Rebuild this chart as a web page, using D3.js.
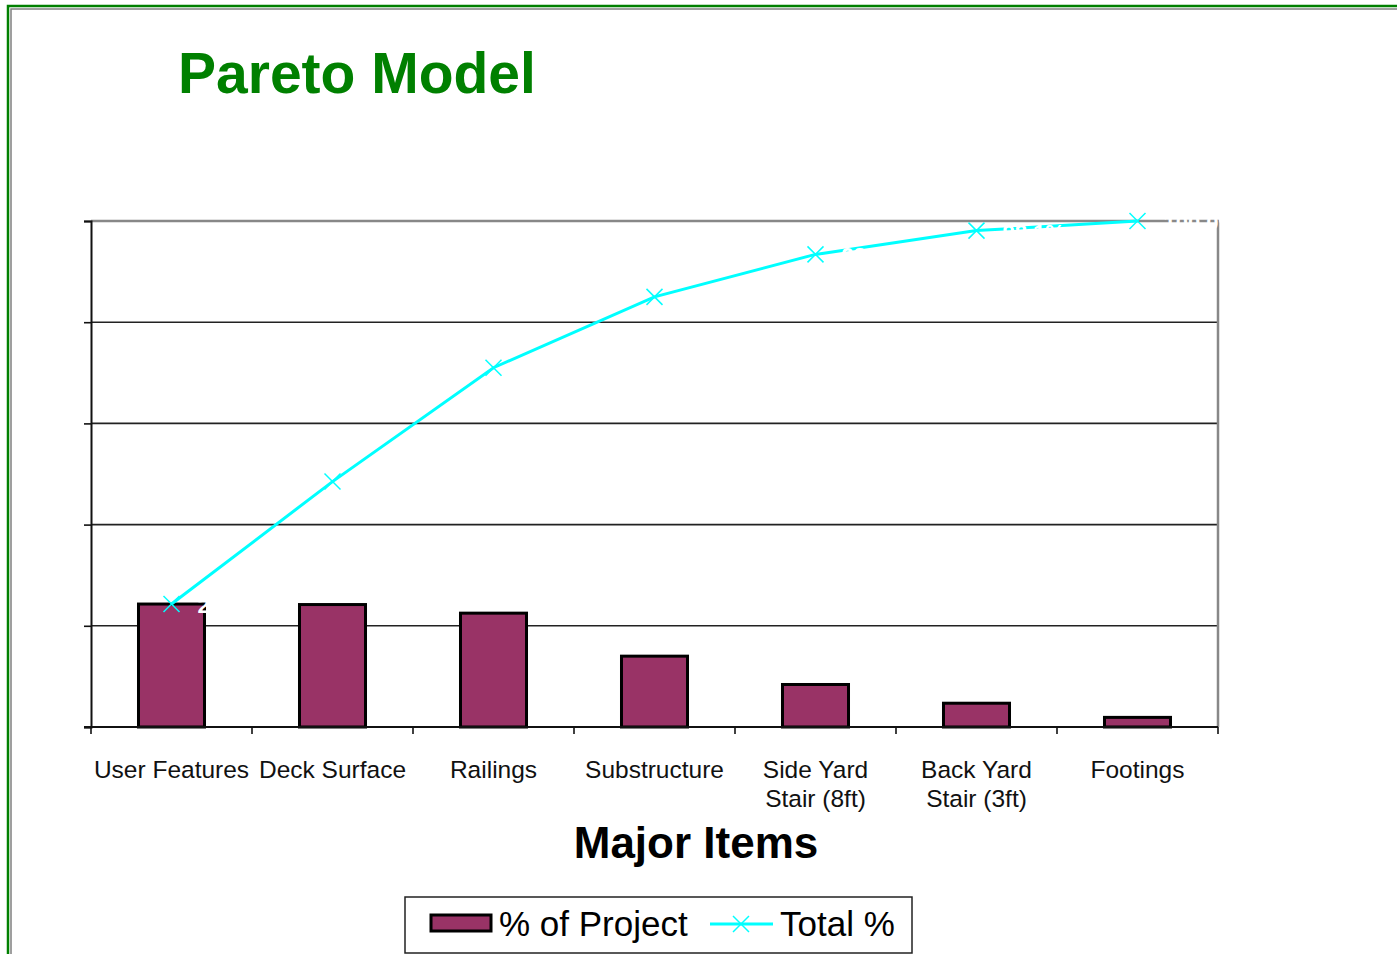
<!DOCTYPE html>
<html>
<head>
<meta charset="utf-8">
<script src="https://cdn.jsdelivr.net/npm/d3@7"></script>
<style>
  body { margin: 0; background: #fff; }
  svg { display: block; font-family: "Liberation Sans", Arial, sans-serif; }
</style>
</head>
<body>
<svg id="chart" width="1397" height="954"></svg>
<script>
// chart data
var categories = ["User Features", "Deck Surface", "Railings", "Substructure", "Side Yard|Stair (8ft)", "Back Yard|Stair (3ft)", "Footings"];
var pctProject = [0.243, 0.242, 0.225, 0.140, 0.084, 0.047, 0.019];
var totalPct = [0.243, 0.485, 0.710, 0.850, 0.934, 0.981, 1.000];
var yTicks = [0, 0.2, 0.4, 0.6, 0.8, 1.0];

var svg = d3.select("#chart");
var pLeft = 91, pRight = 1218, pTop = 221, pBottom = 727;

// frame round the whole chart
svg.append("path").attr("d", "M8,954 V6 H1397").attr("fill", "none").attr("stroke", "#008000").attr("stroke-width", 2.5);
svg.append("path").attr("d", "M11,954 V9 H1397").attr("fill", "none").attr("stroke", "#808080").attr("stroke-width", 1.5);

// title
svg.append("text")
	.attr("x", 178).attr("y", 93)
	.attr("font-size", "57px").attr("font-weight", "bold")
	.attr("fill", "#008000")
	.text("Pareto Model");

var xs = d3.scaleBand().domain(categories).range([pLeft, pRight]);
var xb = d3.scaleBand().domain(categories).range([pLeft, pRight]).paddingInner(0.59).paddingOuter(0.295);
var ys = d3.scaleLinear().domain([0, 1]).range([pBottom, pTop]);

// gridlines
svg.append("g")
	.selectAll("line").data(yTicks.slice(1, -1)).enter().append("line")
	.attr("x1", pLeft).attr("x2", pRight)
	.attr("y1", function(d) { return ys(d); }).attr("y2", function(d) { return ys(d); })
	.attr("stroke", "#222").attr("stroke-width", 1.6);

// plot area top and right border
svg.append("path")
	.attr("d", "M" + pLeft + "," + ys(1) + " H" + pRight + " V" + pBottom)
	.attr("fill", "none").attr("stroke", "#888").attr("stroke-width", 2.5);

// left axis with tick marks, no labels
svg.append("g")
	.attr("transform", "translate(" + pLeft + ",0)")
	.call(d3.axisLeft(ys).tickValues(yTicks).tickSize(7).tickFormat(""))
	.call(function(g) {
		g.select(".domain").attr("stroke", "#111").attr("stroke-width", 2);
		g.selectAll(".tick line").attr("stroke", "#111").attr("stroke-width", 1.6);
	});

// bars
svg.append("g")
	.selectAll("rect").data(pctProject).enter().append("rect")
	.attr("x", function(d, i) { return xb(categories[i]); })
	.attr("y", function(d) { return ys(d); })
	.attr("width", xb.bandwidth())
	.attr("height", function(d) { return ys(0) - ys(d); })
	.attr("fill", "#993366").attr("stroke", "#000").attr("stroke-width", 3);

// bottom axis, ticks at category boundaries
var bx = svg.append("g").attr("transform", "translate(0," + pBottom + ")");
bx.append("line").attr("x1", pLeft - 7).attr("x2", pRight).attr("stroke", "#111").attr("stroke-width", 2);
bx.selectAll("line.tk").data(categories.concat(["end"])).enter().append("line")
	.attr("class", "tk")
	.attr("x1", function(d, i) { return pLeft + i * xs.step(); })
	.attr("x2", function(d, i) { return pLeft + i * xs.step(); })
	.attr("y1", 0).attr("y2", 7)
	.attr("stroke", "#111").attr("stroke-width", 1.6);

// category labels
var lbl = svg.append("g").selectAll("text").data(categories).enter().append("text")
	.attr("x", function(d) { return xs(d) + xs.bandwidth() / 2; })
	.attr("y", 778)
	.attr("text-anchor", "middle")
	.attr("font-size", "24.5px").attr("fill", "#111");
lbl.selectAll("tspan").data(function(d) { return d.split("|"); }).enter().append("tspan")
	.attr("x", function() { return this.parentNode.getAttribute("x"); })
	.attr("dy", function(d, i) { return i === 0 ? 0 : 29; })
	.text(function(d) { return d; });

// cumulative line
var cx = function(d, i) { return xs(categories[i]) + xs.bandwidth() / 2; };
svg.append("path")
	.datum(totalPct)
	.attr("fill", "none").attr("stroke", "#00ffff").attr("stroke-width", 3)
	.attr("d", d3.line().x(cx).y(function(d) { return ys(d); }));

// x markers
var m = 8;
svg.append("g").selectAll("path").data(totalPct).enter().append("path")
	.attr("d", function(d, i) {
		var x = cx(d, i), y = ys(d);
		return "M" + (x - m) + "," + (y - m) + "L" + (x + m) + "," + (y + m) + "M" + (x - m) + "," + (y + m) + "L" + (x + m) + "," + (y - m);
	})
	.attr("stroke", "#00ffff").attr("stroke-width", 1.5);

// white data labels (as in the original, they barely show)
svg.append("g").selectAll("text").data(totalPct).enter().append("text")
	.attr("x", function(d, i) { return cx(d, i) + 26; })
	.attr("y", function(d) { return ys(d) + 9; })
	.attr("font-size", "22px").attr("font-weight", "bold").attr("fill", "#fff")
	.text(function(d) { return d3.format(".1%")(d); });

// x axis title
svg.append("text")
	.attr("x", 696).attr("y", 858)
	.attr("text-anchor", "middle")
	.attr("font-size", "44px").attr("font-weight", "bold").attr("fill", "#000")
	.text("Major Items");

// legend
var lg = svg.append("g");
lg.append("rect").attr("x", 405).attr("y", 897).attr("width", 507).attr("height", 56)
	.attr("fill", "#fff").attr("stroke", "#222").attr("stroke-width", 1.5);
lg.append("rect").attr("x", 431).attr("y", 915).attr("width", 60).attr("height", 16)
	.attr("fill", "#993366").attr("stroke", "#000").attr("stroke-width", 3);
lg.append("text").attr("x", 499).attr("y", 936).attr("font-size", "35px").attr("fill", "#000").text("% of Project");
lg.append("line").attr("x1", 710).attr("x2", 773).attr("y1", 924).attr("y2", 924)
	.attr("stroke", "#00ffff").attr("stroke-width", 3);
lg.append("path").attr("d", "M" + (741 - m) + "," + (924 - m) + "L" + (741 + m) + "," + (924 + m) + "M" + (741 - m) + "," + (924 + m) + "L" + (741 + m) + "," + (924 - m))
	.attr("stroke", "#00ffff").attr("stroke-width", 1.5);
lg.append("text").attr("x", 780).attr("y", 936).attr("font-size", "35px").attr("fill", "#000").text("Total %");
</script>
</body>
</html>
